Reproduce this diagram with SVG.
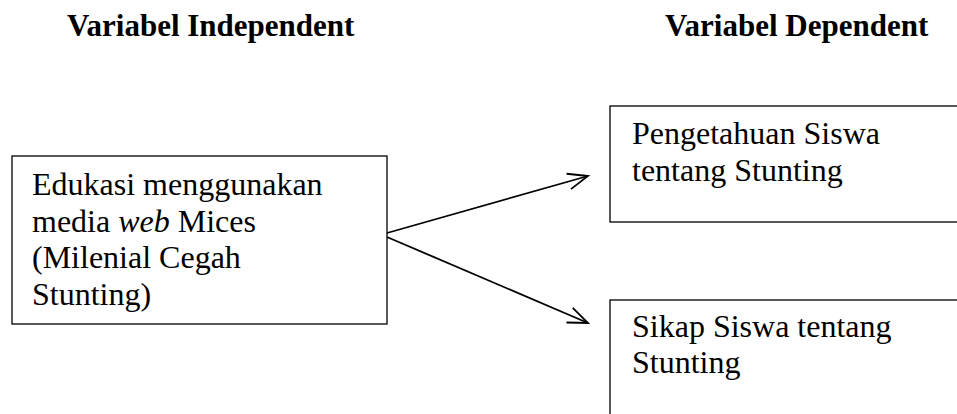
<svg xmlns="http://www.w3.org/2000/svg" width="957" height="414" viewBox="0 0 957 414">
<style>
.box{fill:#fff;stroke:#000;stroke-width:1.3}
.t{font-family:"Liberation Serif","Times New Roman",serif;font-size:32px;fill:#000}
.h{font-family:"Liberation Serif","Times New Roman",serif;font-size:31px;font-weight:bold;fill:#000}
.c{fill:none;stroke:#000;stroke-width:1.8}
</style>
<defs>
<marker id="arr" markerUnits="userSpaceOnUse" markerWidth="30" markerHeight="30" refX="22" refY="10" orient="auto" viewBox="0 0 30 20">
<path d="M2,2 L22,10 L2,18" fill="none" stroke="#000" stroke-width="1.8"/>
</marker>
</defs>
<g id="heading-independent"><text class="h" x="67" y="36">Variabel Independent</text></g>
<g id="heading-dependent"><text class="h" x="665" y="36">Variabel Dependent</text></g>
<g id="node-edukasi">
<rect class="box" x="12" y="156" width="375" height="168"/>
<text class="t" x="32" y="195">Edukasi menggunakan</text>
<text class="t" x="32" y="231.7">media <tspan font-style="italic">web</tspan> Mices</text>
<text class="t" x="32" y="268.3">(Milenial Cegah</text>
<text class="t" x="32" y="305">Stunting)</text>
</g>
<g id="node-pengetahuan">
<rect class="box" x="610" y="106" width="360" height="116"/>
<text class="t" x="632" y="144">Pengetahuan Siswa</text>
<text class="t" x="632" y="180.7">tentang Stunting</text>
</g>
<g id="node-sikap">
<rect class="box" x="610" y="300" width="360" height="130"/>
<text class="t" x="632" y="337">Sikap Siswa tentang</text>
<text class="t" x="632" y="373">Stunting</text>
</g>
<g id="connectors">
<line class="c" x1="387" y1="233" x2="588" y2="176" marker-end="url(#arr)"/>
<line class="c" x1="387" y1="237" x2="588" y2="323" marker-end="url(#arr)"/>
</g>
</svg>
